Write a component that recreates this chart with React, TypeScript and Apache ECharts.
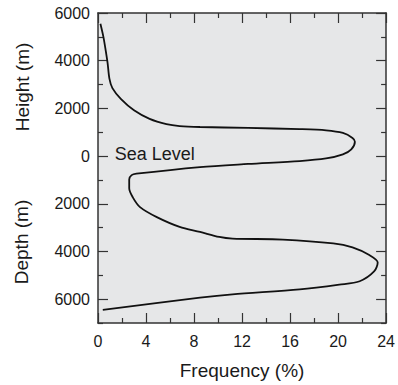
import React, { useEffect, useRef } from "react";
import * as echarts from "echarts";

// Hypsometric profile: frequency (%) of Earth's surface at each elevation / depth.
const frequency: number[] = [
  0.2, 0.45, 0.65, 0.8, 0.95, 1.2, 1.9, 3.0, 4.3, 5.7, 6.8, 8.5, 12.5, 16.8, 19.0,
  20.4, 21.2, 21.4, 21.1, 20.4, 19.0, 16.8, 12.5, 8.5, 3.2, 2.8, 2.6, 2.6, 2.9, 3.5,
  4.9, 6.8, 8.5, 10.1, 11.2, 15.4, 19.6, 21.2, 22.6, 23.3, 23.0, 21.8, 20.1, 16.8,
  11.2, 8.5, 0.4,
];
// Elevation in metres (positive = height above sea level, negative = depth).
const elevation: number[] = [
  5550, 5000, 4400, 3900, 3250, 2850, 2400, 1920, 1560, 1340, 1260, 1220, 1180, 1130,
  1080, 970, 760, 600, 280, 70, -100, -210, -330, -460, -740, -800, -980, -1350,
  -1730, -2140, -2560, -2970, -3180, -3390, -3460, -3500, -3660, -3830, -4150, -4460,
  -4840, -5250, -5390, -5590, -5800, -5940, -6450,
];
const majorTicks: number[] = [-6000, -4000, -2000, 0, 2000, 4000, 6000];
const minorTicks: number[] = [-7000, -5000, -3000, -1000, 1000, 3000, 5000];

const FONT = "'Liberation Sans', Arial, Helvetica, sans-serif";
const INK = "#1a1a1a";
const FRAME = "#333333";

export default function App() {
  const ref = useRef<HTMLDivElement>(null);

  useEffect(() => {
    if (!ref.current) return;
    const chart = echarts.init(ref.current, undefined, { renderer: "svg" });

    const lineStyle = { color: FRAME, width: 1.5 };
    const yBase = {
      type: "value" as const,
      min: -7000,
      max: 6000,
      interval: 1000,
      splitLine: { show: false },
    };
    const yMajor = (position: "left" | "right", labels: boolean) => ({
      ...yBase,
      position,
      axisLine: { show: true, onZero: false, lineStyle },
      axisTick: {
        show: true,
        inside: true,
        length: 10,
        customValues: majorTicks,
        lineStyle: { color: FRAME, width: 1.2 },
      },
      axisLabel: labels
        ? {
            show: true,
            customValues: majorTicks,
            formatter: (v: number) => String(Math.abs(v)),
            fontSize: 16,
            fontFamily: FONT,
            color: INK,
            margin: 8,
          }
        : { show: false },
    });
    const yMinor = (position: "left" | "right") => ({
      ...yBase,
      position,
      axisLine: { show: false, onZero: false },
      axisTick: {
        show: true,
        inside: true,
        length: 5,
        customValues: minorTicks,
        lineStyle: { color: FRAME, width: 1.2 },
      },
      axisLabel: { show: false },
    });
    const xAxisOf = (position: "bottom" | "top", labels: boolean) => ({
      type: "value" as const,
      position,
      min: 0,
      max: 24,
      interval: 4,
      splitLine: { show: false },
      axisLine: { show: true, onZero: false, lineStyle },
      axisTick: { show: true, inside: true, length: 10, lineStyle: { color: FRAME, width: 1.2 } },
      minorTick: {
        show: true,
        splitNumber: 2,
        length: 5,
        lineStyle: { color: FRAME, width: 1.2 },
      },
      axisLabel: labels
        ? { show: true, fontSize: 16, fontFamily: FONT, color: INK, margin: 10 }
        : { show: false },
      name: labels ? "Frequency (%)" : "",
      nameLocation: "middle" as const,
      nameGap: 38,
      nameTextStyle: { fontSize: 19, fontFamily: FONT, color: INK },
    });

    chart.setOption({
      animation: false,
      backgroundColor: "#ffffff",
      grid: {
        left: 98,
        right: 11,
        top: 13,
        bottom: 60,
        show: true,
        backgroundColor: "#e6e7e8",
        borderWidth: 0,
      },
      xAxis: [xAxisOf("bottom", true), xAxisOf("top", false)],
      yAxis: [yMajor("left", true), yMinor("left"), yMajor("right", false), yMinor("right")],
      graphic: [
        {
          type: "text",
          x: 22,
          y: 87,
          rotation: Math.PI / 2,
          style: {
            text: "Height (m)",
            fontSize: 19,
            fontFamily: FONT,
            fill: INK,
            align: "center",
            verticalAlign: "middle",
          },
        },
        {
          type: "text",
          x: 21,
          y: 242,
          rotation: Math.PI / 2,
          style: {
            text: "Depth (m)",
            fontSize: 19,
            fontFamily: FONT,
            fill: INK,
            align: "center",
            verticalAlign: "middle",
          },
        },
      ],
      series: [
        {
          type: "line",
          xAxisIndex: 0,
          yAxisIndex: 0,
          data: frequency.map((f, i) => [f, elevation[i]]),
          showSymbol: false,
          smooth: 0.3,
          lineStyle: { color: "#111111", width: 1.8 },
          markPoint: {
            symbol: "circle",
            symbolSize: 0,
            silent: true,
            data: [
              {
                coord: [1.4, 100],
                label: {
                  show: true,
                  position: "right",
                  distance: 0,
                  formatter: "Sea Level",
                  fontSize: 18,
                  fontFamily: FONT,
                  color: INK,
                },
              },
            ],
          },
        },
      ],
    });

    return () => chart.dispose();
  }, []);

  return (
    <div
      ref={ref}
      style={{ position: "fixed", left: 0, top: 0, width: 398, height: 385 }}
    />
  );
}
